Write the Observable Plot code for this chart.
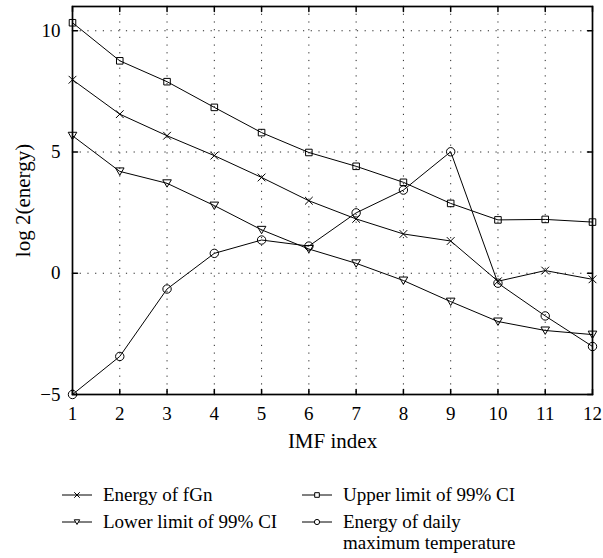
<!DOCTYPE html>
<html>
<head>
<meta charset="utf-8">
<script src="https://cdn.jsdelivr.net/npm/d3@7"></script>
<script src="https://cdn.jsdelivr.net/npm/@observablehq/plot@0.6"></script>
<style>
  html, body { margin: 0; padding: 0; background: #fff; }
  body { width: 603px; font-family: 'Liberation Serif', 'DejaVu Serif', serif; color: #000; }
  #legend { display: grid; grid-template-columns: 240px 240px; padding-left: 62px; padding-top: 24px; row-gap: 6px; font-size: 19px; line-height: 21px; }
  .item { display: flex; align-items: flex-start; }
  .item svg { flex: none; margin-top: 4px; margin-right: 11px; }
</style>
</head>
<body>
<div id="chart"></div>
<div id="legend"></div>
<script>
const imfIndex = [1, 2, 3, 4, 5, 6, 7, 8, 9, 10, 11, 12];
const energyFgn = [7.98, 6.56, 5.67, 4.85, 3.95, 2.99, 2.24, 1.62, 1.33, -0.33, 0.11, -0.25];
const upperCI = [10.33, 8.76, 7.9, 6.84, 5.8, 4.98, 4.41, 3.75, 2.88, 2.2, 2.22, 2.11];
const lowerCI = [5.67, 4.2, 3.71, 2.79, 1.79, 1.0, 0.41, -0.3, -1.17, -1.99, -2.36, -2.53];
const energyTemp = [-5.0, -3.43, -0.65, 0.82, 1.37, 1.12, 2.49, 3.43, 5.01, -0.41, -1.76, -3.02];
const seriesNames = ["Energy of fGn", "Upper limit of 99% CI", "Lower limit of 99% CI", "Energy of daily maximum temperature"];
const xTicks = [1, 2, 3, 4, 5, 6, 7, 8, 9, 10, 11, 12];
const yTicks = [-5, 0, 5, 10];
const xLabel = "IMF index";
const yLabel = "log 2(energy)";

const triangleDown = {
  draw(context, size) {
    const r = Math.sqrt(size / Math.PI);
    context.moveTo(-1.05 * r, -0.85 * r);
    context.lineTo(1.05 * r, -0.85 * r);
    context.lineTo(0, 0.95 * r);
    context.closePath();
  }
};
const seriesValues = [energyFgn, upperCI, lowerCI, energyTemp];
const seriesSymbols = ["times", "square", triangleDown, "circle"];
const seriesR = [3.6, 3.7, 4.1, 4.2];

const rows = seriesNames.flatMap((name, i) =>
  imfIndex.map((x, j) => ({series: name, x, y: seriesValues[i][j]})));

const tickShape = {
  draw(context, l) { context.moveTo(0, 0); context.lineTo(0, -l); }
};
const fmt = d => d < 0 ? "\u2212" + Math.abs(d) : String(d);

const plot = Plot.plot({
  width: 603,
  height: 460,
  marginLeft: 72,
  marginRight: 11,
  marginTop: 6,
  marginBottom: 66,
  style: {fontFamily: "'Liberation Serif', 'DejaVu Serif', serif", fontSize: "19px", color: "#000", background: "#fff", overflow: "visible"},
  x: {domain: [1, 12]},
  y: {domain: [-5, 11]},
  marks: [
    Plot.gridX(xTicks, {stroke: "#000", strokeOpacity: 0.85, strokeDasharray: "1.2,6.5"}),
    Plot.gridY(yTicks, {stroke: "#000", strokeOpacity: 0.85, strokeDasharray: "1.2,6.5"}),
    Plot.line(rows, {x: "x", y: "y", z: "series", stroke: "#000", strokeWidth: 1}),
    ...seriesNames.map((name, i) =>
      Plot.dot(rows.filter(d => d.series === name), {x: "x", y: "y", symbol: seriesSymbols[i], r: seriesR[i], stroke: "#000", fill: "none", strokeWidth: 1})),
    Plot.frame({stroke: "#000", strokeWidth: 1.7}),
    Plot.vectorX(xTicks, {frameAnchor: "bottom", length: 5, anchor: "start", shape: tickShape, rotate: 0, stroke: "#000"}),
    Plot.vectorX(xTicks, {frameAnchor: "top", length: 5, anchor: "start", shape: tickShape, rotate: 180, stroke: "#000"}),
    Plot.vectorY(yTicks, {frameAnchor: "left", length: 5, anchor: "start", shape: tickShape, rotate: 90, stroke: "#000"}),
    Plot.vectorY(yTicks, {frameAnchor: "right", length: 5, anchor: "start", shape: tickShape, rotate: -90, stroke: "#000"}),
    Plot.axisX(xTicks, {tickSize: 0, tickPadding: 12, tickFormat: fmt, label: null}),
    Plot.axisY(yTicks, {tickSize: 0, tickPadding: 12, tickFormat: fmt, label: null}),
    Plot.text([xLabel], {text: d => d, frameAnchor: "bottom", dy: 53, fontSize: 21, fill: "#000"}),
    Plot.text([yLabel], {text: d => d, frameAnchor: "left", textAnchor: "middle", lineAnchor: "middle", rotate: -90, dx: -49, fontSize: 21, fill: "#000"})
  ]
});
document.getElementById("chart").appendChild(plot);

// Legend
const legend = d3.select("#legend");
[0, 1, 2, 3].forEach(i => {
  const item = legend.append("div").attr("class", "item");
  const svg = item.append("svg").attr("width", 30).attr("height", 14);
  svg.append("line").attr("x1", 0).attr("x2", 30).attr("y1", 7).attr("y2", 7).attr("stroke", "#000").attr("stroke-width", 1);
  const sym = seriesSymbols[i];
  const type = typeof sym === "string" ? {times: d3.symbolTimes, square: d3.symbolSquare, circle: d3.symbolCircle}[sym] : sym;
  const r = 2.6;
  svg.append("path").attr("transform", "translate(15,7)")
    .attr("d", d3.symbol(type, r * r * Math.PI)())
    .attr("fill", "#fff").attr("stroke", "#000").attr("stroke-width", 1);
  const text = item.append("div");
  if (i === 3) {
    text.append("span").text("Energy of daily");
    text.append("br");
    text.append("span").text("maximum temperature");
  } else {
    text.text(seriesNames[i]);
  }
});
</script>
</body>
</html>
